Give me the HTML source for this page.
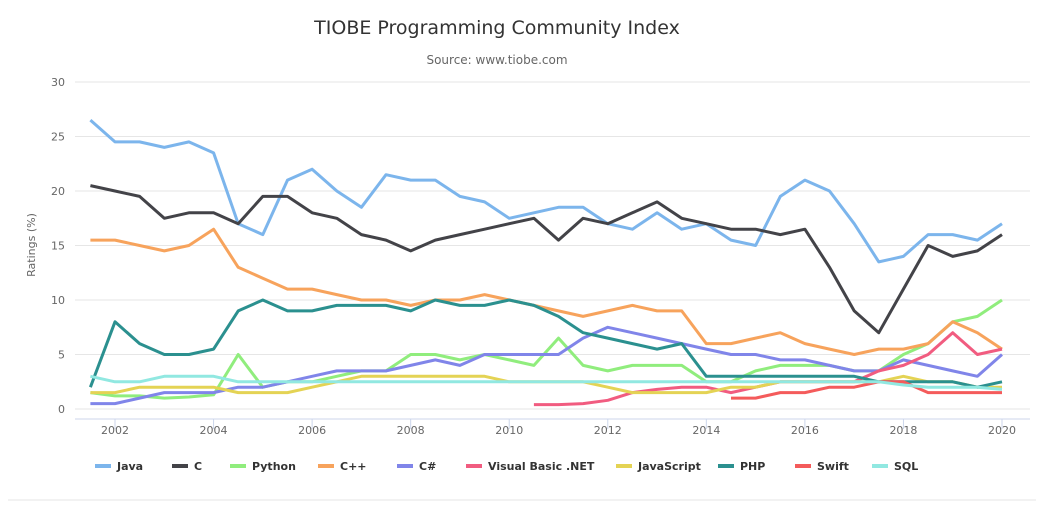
<!DOCTYPE html>
<html><head><meta charset="utf-8"><style>
body{margin:0;background:#fff;font-family:"DejaVu Sans","Liberation Sans",sans-serif;}
svg{display:block}
text{font-family:"DejaVu Sans","Liberation Sans",sans-serif;}
</style></head><body>
<svg id="chart" width="1044" height="506">
<text x="497" y="34" text-anchor="middle" font-size="19" fill="#333">TIOBE Programming Community Index</text>
<text x="497" y="64" text-anchor="middle" font-size="12" fill="#666">Source: www.tiobe.com</text>
<text transform="translate(35,245) rotate(-90)" text-anchor="middle" font-size="11" fill="#666">Ratings (%)</text>
<g id="grid"></g><g id="series"></g><g id="legend"></g>
<line x1="8" x2="1036" y1="500" y2="500" stroke="#e6e6e6"/>
</svg>
<script>
const yTicks=[0,5,10,15,20,25,30];
const xTicks=[2002,2004,2006,2008,2010,2012,2014,2016,2018,2020];
const startYear=2001.5, step=0.5;
const names=["Java","C","Python","C++","C#","Visual Basic .NET","JavaScript","PHP","Swift","SQL"];
const colors=["#7cb5ec","#434348","#90ed7d","#f7a35c","#8085e9","#f15c80","#e4d354","#2b908f","#f45b5b","#91e8e1"];
const java=[26.5,24.5,24.5,24,24.5,23.5,17,16,21,22,20,18.5,21.5,21,21,19.5,19,17.5,18,18.5,18.5,17,16.5,18,16.5,17,15.5,15,19.5,21,20,17,13.5,14,16,16,15.5,17];
const c=[20.5,20,19.5,17.5,18,18,17,19.5,19.5,18,17.5,16,15.5,14.5,15.5,16,16.5,17,17.5,15.5,17.5,17,18,19,17.5,17,16.5,16.5,16,16.5,13,9,7,11,15,14,14.5,16];
const python=[1.5,1.2,1.2,1,1.1,1.3,5,2,2.5,2.5,3,3.5,3.5,5,5,4.5,5,4.5,4,6.5,4,3.5,4,4,4,2.5,2.5,3.5,4,4,4,3.5,3.5,5,6,8,8.5,10];
const cpp=[15.5,15.5,15,14.5,15,16.5,13,12,11,11,10.5,10,10,9.5,10,10,10.5,10,9.5,9,8.5,9,9.5,9,9,6,6,6.5,7,6,5.5,5,5.5,5.5,6,8,7,5.5];
const csharp=[0.5,0.5,1,1.5,1.5,1.5,2,2,2.5,3,3.5,3.5,3.5,4,4.5,4,5,5,5,5,6.5,7.5,7,6.5,6,5.5,5,5,4.5,4.5,4,3.5,3.5,4.5,4,3.5,3,5];
const vbnet=[null,null,null,null,null,null,null,null,null,null,null,null,null,null,null,null,null,null,0.4,0.4,0.5,0.8,1.5,1.8,2,2,1.5,2,2.5,2.5,2.5,2.5,3.5,4,5,7,5,5.5];
const js=[1.5,1.5,2,2,2,2,1.5,1.5,1.5,2,2.5,3,3,3,3,3,3,2.5,2.5,2.5,2.5,2,1.5,1.5,1.5,1.5,2,2,2.5,2.5,2.5,2.5,2.5,3,2.5,2.5,2,2];
const php=[2,8,6,5,5,5.5,9,10,9,9,9.5,9.5,9.5,9,10,9.5,9.5,10,9.5,8.5,7,6.5,6,5.5,6,3,3,3,3,3,3,3,2.5,2.5,2.5,2.5,2,2.5];
const swift=[null,null,null,null,null,null,null,null,null,null,null,null,null,null,null,null,null,null,null,null,null,null,null,null,null,null,1,1,1.5,1.5,2,2,2.5,2.5,1.5,1.5,1.5,1.5];
const sql=[3,2.5,2.5,3,3,3,2.5,2.5,2.5,2.5,2.5,2.5,2.5,2.5,2.5,2.5,2.5,2.5,2.5,2.5,2.5,2.5,2.5,2.5,2.5,2.5,2.5,2.5,2.5,2.5,2.5,2.5,2.5,2.2,2,2,2,1.8];
const allSeries=[java,c,python,cpp,csharp,vbnet,js,php,swift,sql];
const NS="http://www.w3.org/2000/svg";
const xS=y=>115+(y-2002)*(1002-115)/18;
const yS=v=>409-v*(409-82)/30;
const grid=document.getElementById('grid');
yTicks.forEach(t=>{
 const l=document.createElementNS(NS,'line');
 
 
 l.setAttribute('x1',75);l.setAttribute('x2',1030);l.setAttribute('y1',yS(t));l.setAttribute('y2',yS(t));
 l.setAttribute('stroke','#e6e6e6');grid.appendChild(l);
 const tx=document.createElementNS(NS,'text');
 
 
 tx.setAttribute('x',65);tx.setAttribute('y',yS(t)+4);tx.setAttribute('text-anchor','end');
 tx.setAttribute('font-size','11');tx.setAttribute('fill','#666');tx.textContent=t;grid.appendChild(tx);
});
const ax=document.createElementNS(NS,'line');


ax.setAttribute('x1',75);ax.setAttribute('x2',1030);ax.setAttribute('y1',419);ax.setAttribute('y2',419);ax.setAttribute('stroke','#ccd6eb');grid.appendChild(ax);
xTicks.forEach(t=>{
 const tk=document.createElementNS(NS,'line');
 
 
 tk.setAttribute('x1',xS(t));tk.setAttribute('x2',xS(t));tk.setAttribute('y1',419);tk.setAttribute('y2',429);tk.setAttribute('stroke','#ccd6eb');grid.appendChild(tk);
 const tx=document.createElementNS(NS,'text');
 
 
 tx.setAttribute('x',xS(t));tx.setAttribute('y',434);tx.setAttribute('text-anchor','middle');
 tx.setAttribute('font-size','11');tx.setAttribute('fill','#666');tx.textContent=t;grid.appendChild(tx);
});
const sg=document.getElementById('series');
allSeries.forEach((s,i)=>{
 let d='',pen=false;
 s.forEach((v,j)=>{
  if(v===null){pen=false;return;}
  d+=(pen?'L':'M')+xS(startYear+j*step).toFixed(1)+' '+yS(v).toFixed(1)+' ';pen=true;
 });
 const p=document.createElementNS(NS,'path');
 
 
 p.setAttribute('d',d);p.setAttribute('fill','none');p.setAttribute('stroke',colors[i]);
 p.setAttribute('stroke-width','3');p.setAttribute('stroke-linejoin','round');sg.appendChild(p);
});
const lx=[95,172,230,318,397,466,616,718,795,872];
const lg=document.getElementById('legend');
names.forEach((n,i)=>{
 const g=document.createElementNS(NS,'g');
 
 
 const l=document.createElementNS(NS,'line');
 l.setAttribute('x1',lx[i]);l.setAttribute('x2',lx[i]+16);l.setAttribute('y1',466);l.setAttribute('y2',466);
 l.setAttribute('stroke',colors[i]);l.setAttribute('stroke-width','4');g.appendChild(l);
 const t=document.createElementNS(NS,'text');
 t.setAttribute('x',lx[i]+22);t.setAttribute('y',470);t.setAttribute('font-size','11');
 t.setAttribute('font-weight','bold');t.setAttribute('fill','#333');t.textContent=n;g.appendChild(t);
 lg.appendChild(g);
});
</script>
</body></html>
